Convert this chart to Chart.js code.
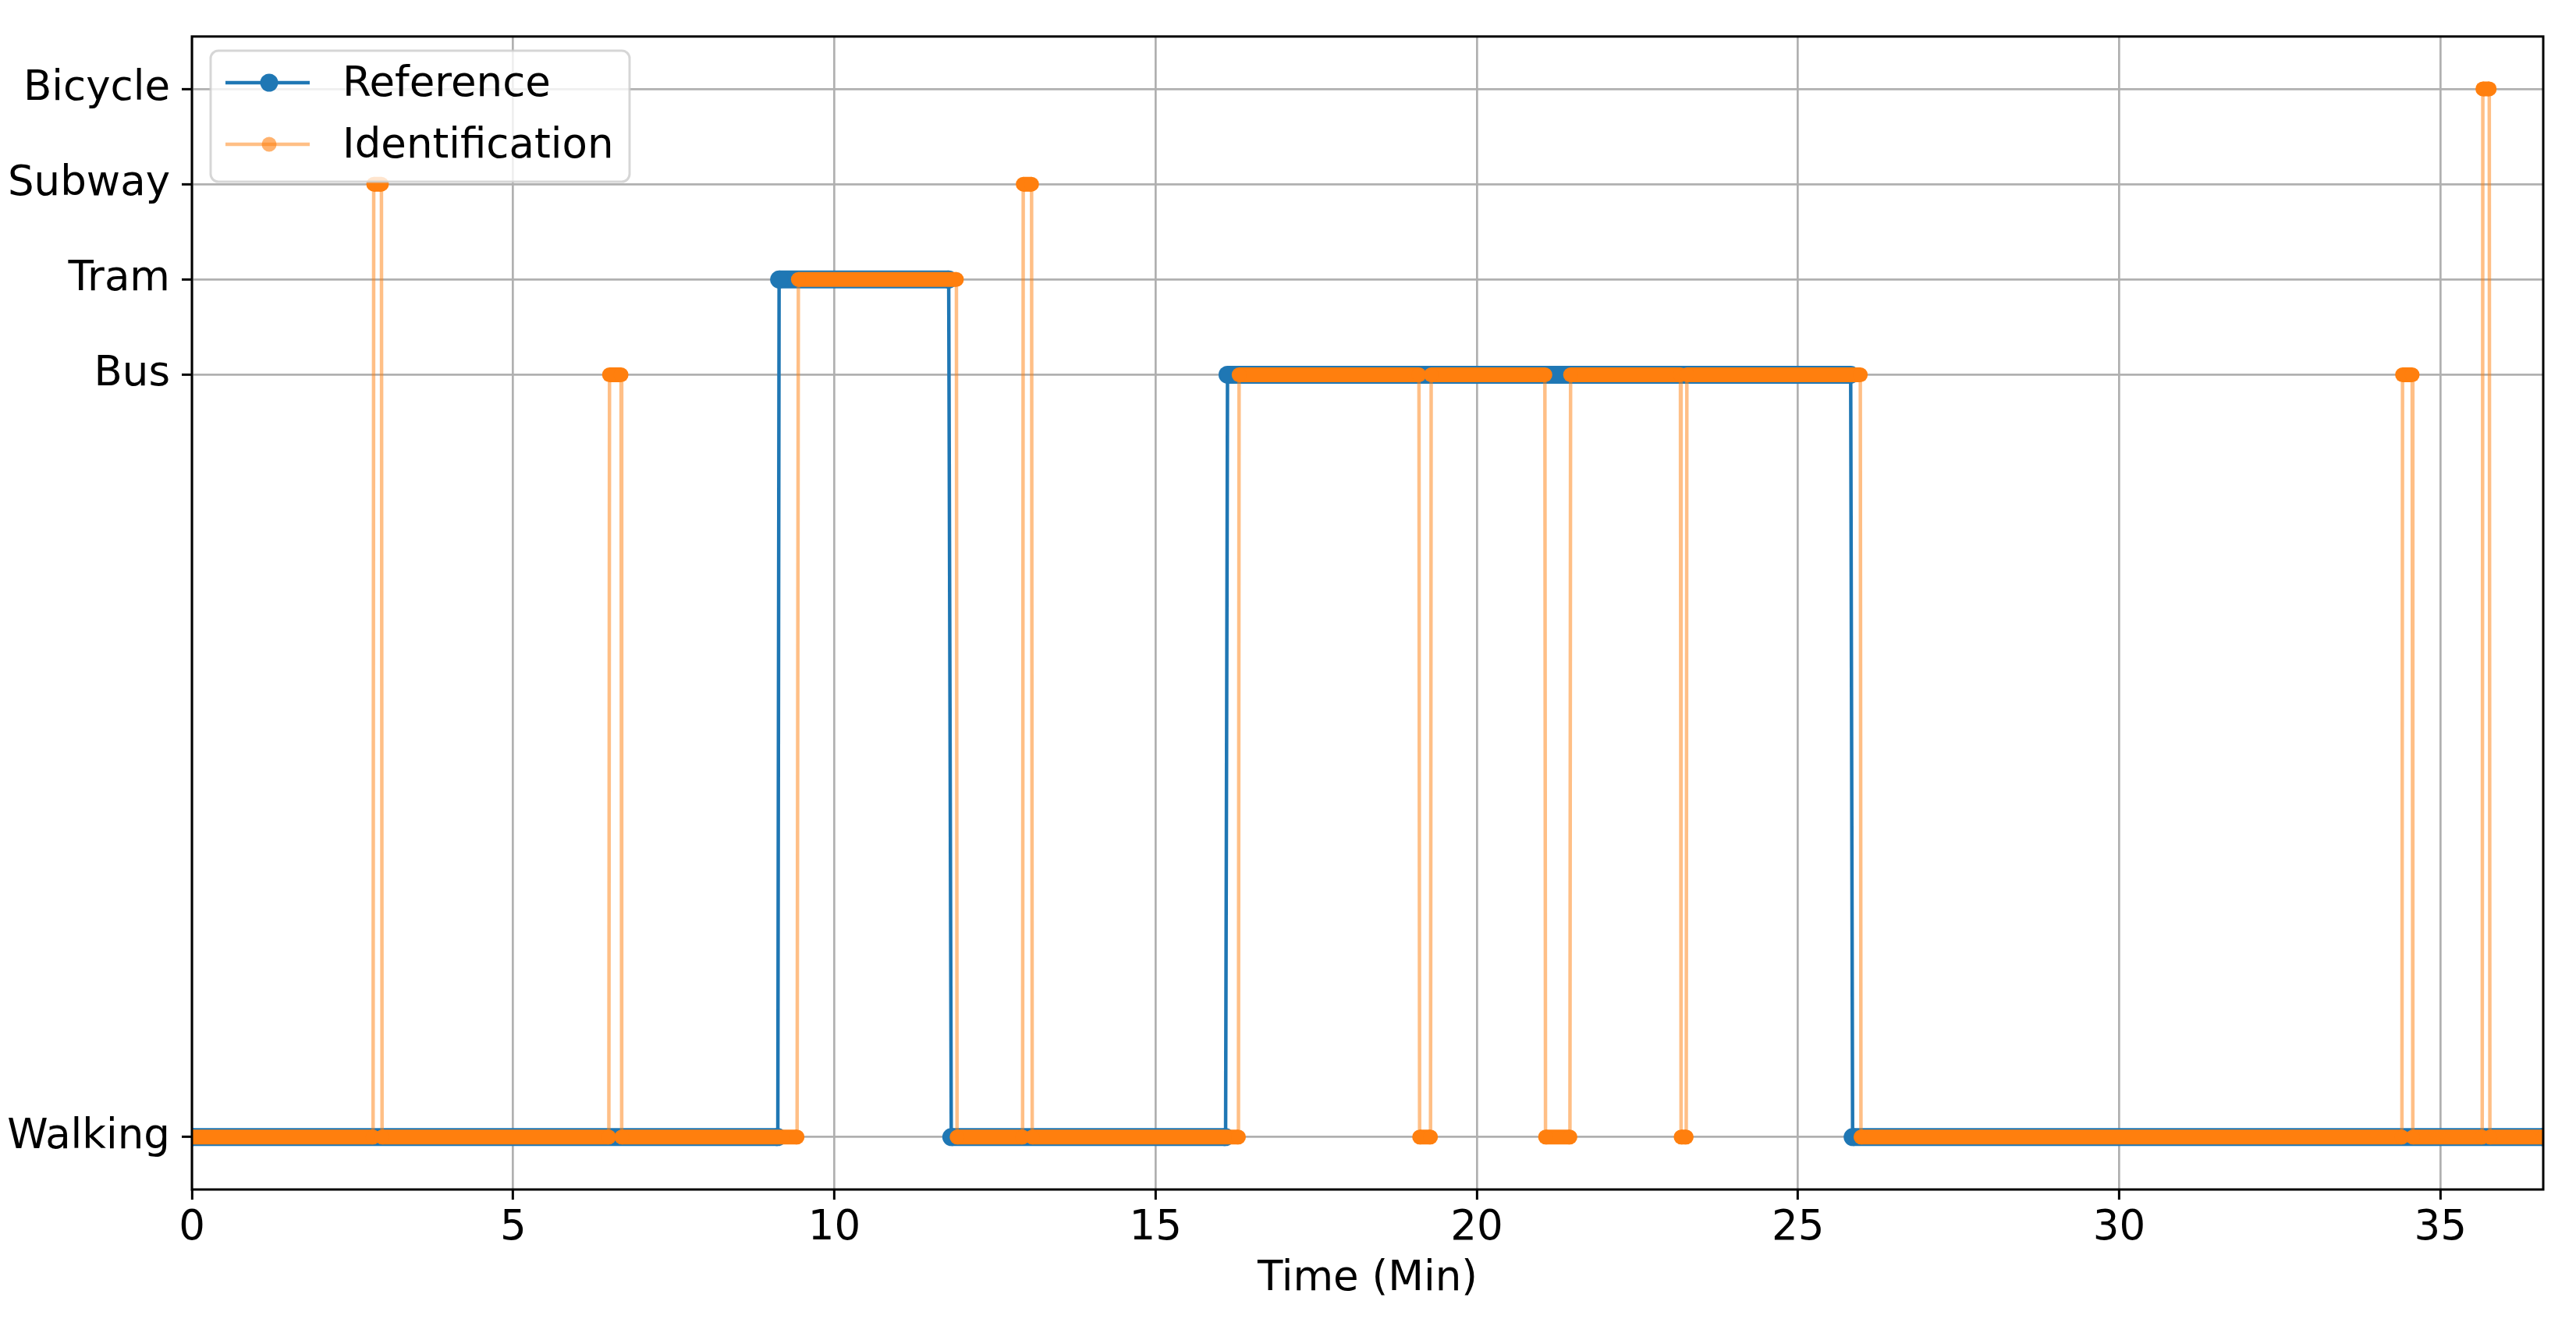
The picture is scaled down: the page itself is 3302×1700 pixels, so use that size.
<!DOCTYPE html>
<html><head><meta charset="utf-8">
<script src="https://cdn.jsdelivr.net/npm/chart.js@4.4.1/dist/chart.umd.min.js"></script>
<style>html,body{margin:0;padding:0;background:#fff}</style>
</head><body>
<canvas id="c" width="3302" height="1700"></canvas>
<script>
// ---- data ----
const modeNames = ['Walking', 'Bus', 'Tram', 'Subway', 'Bicycle'];
const modeLevels = [0, 8, 9, 10, 11];
const xTicks = [0, 5, 10, 15, 20, 25, 30, 35];
const xMin = 0;
const xMax = 36.6;
const seriesNames = ['Reference', 'Identification'];

// Reference: segment start / end times (min) and mode
const refStart = [0, 9.14, 11.82, 16.12, 25.85];
const refEnd   = [9.12, 11.78, 16.09, 25.82, 36.6];
const refMode  = ['Walking', 'Tram', 'Walking', 'Bus', 'Walking'];

// Identification: segment start / end times (min) and mode
const idStart = [0, 2.83, 2.96, 6.50, 6.69, 9.44, 11.91, 12.94, 13.08, 16.30, 19.11, 19.29, 21.07, 21.46, 23.18, 23.27, 25.98, 34.41, 34.57, 35.66, 35.77];
const idEnd   = [2.82, 2.95, 6.49, 6.68, 9.42, 11.90, 12.93, 13.07, 16.29, 19.10, 19.28, 21.06, 21.45, 23.17, 23.26, 25.97, 34.40, 34.56, 35.65, 35.76, 36.6];
const idMode  = ['Walking', 'Subway', 'Walking', 'Bus', 'Walking', 'Tram', 'Walking', 'Subway', 'Walking', 'Bus', 'Walking', 'Bus', 'Walking', 'Bus', 'Walking', 'Bus', 'Walking', 'Bus', 'Walking', 'Bicycle', 'Walking'];

// ---- helpers ----
const lvl = m => modeLevels[modeNames.indexOf(m)];
function linePts(s, e, m) {
  const p = [];
  for (let i = 0; i < s.length; i++) {
    p.push({x: s[i], y: lvl(m[i])});
    p.push({x: e[i], y: lvl(m[i])});
  }
  return p;
}
function bandPts(s, e, m) {
  const p = [];
  for (let i = 0; i < s.length; i++) {
    p.push({x: s[i], y: lvl(m[i])});
    p.push({x: e[i], y: lvl(m[i])});
    p.push({x: e[i], y: null});
  }
  return p;
}

const BLUE = '#1f77b4', ORANGE = '#ff7f0e', ORANGE_A = 'rgba(255,127,14,0.5)';
const RB = 11.5, RO = 9.5, LW = 4.5;
const FONT = 'DejaVu Sans';
const FS = 53;

const framePlugin = {
  id: 'frameLegend',
  afterDatasetsDraw(chart) {
    const ctx = chart.ctx, a = chart.chartArea;
    ctx.save();
    ctx.strokeStyle = '#000';
    ctx.lineWidth = 3;
    ctx.strokeRect(a.left, a.top, a.right - a.left, a.bottom - a.top);
    // legend
    const bx = 270, by = 65, bw = 537, bh = 168, r = 10;
    ctx.beginPath();
    ctx.moveTo(bx + r, by);
    ctx.lineTo(bx + bw - r, by); ctx.arcTo(bx + bw, by, bx + bw, by + r, r);
    ctx.lineTo(bx + bw, by + bh - r); ctx.arcTo(bx + bw, by + bh, bx + bw - r, by + bh, r);
    ctx.lineTo(bx + r, by + bh); ctx.arcTo(bx, by + bh, bx, by + bh - r, r);
    ctx.lineTo(bx, by + r); ctx.arcTo(bx, by, bx + r, by, r);
    ctx.closePath();
    ctx.fillStyle = 'rgba(255,255,255,0.8)';
    ctx.fill();
    ctx.strokeStyle = 'rgba(204,204,204,0.8)';
    ctx.lineWidth = 3;
    ctx.stroke();
    const rows = [
      {y: 106, line: BLUE, mark: BLUE, r: RB, label: seriesNames[0]},
      {y: 185, line: ORANGE_A, mark: 'rgba(255,127,14,0.6)', r: RO, label: seriesNames[1]}
    ];
    rows.forEach(rw => {
      ctx.strokeStyle = rw.line; ctx.lineWidth = LW;
      ctx.beginPath(); ctx.moveTo(289, rw.y); ctx.lineTo(397, rw.y); ctx.stroke();
      ctx.fillStyle = rw.mark;
      ctx.beginPath(); ctx.arc(345, rw.y, rw.r, 0, Math.PI * 2); ctx.fill();
      ctx.fillStyle = '#000';
      ctx.font = FS + 'px "' + FONT + '"';
      ctx.textBaseline = 'middle';
      ctx.textAlign = 'left';
      ctx.fillText(rw.label, 439, rw.y + 3);
    });
    ctx.restore();
  }
};

new Chart(document.getElementById('c'), {
  type: 'line',
  data: {
    datasets: [
      {label: seriesNames[1] + ' markers', data: bandPts(idStart, idEnd, idMode), borderColor: ORANGE, backgroundColor: ORANGE,
       borderWidth: 2 * RO, borderCapStyle: 'butt', pointRadius: RO, pointBorderWidth: 0, pointBackgroundColor: ORANGE,
       spanGaps: false, clip: 0, order: 0, tension: 0},
      {label: seriesNames[1], data: linePts(idStart, idEnd, idMode), borderColor: ORANGE_A, borderWidth: LW,
       pointRadius: 0, clip: 0, order: 1, tension: 0},
      {label: seriesNames[0] + ' markers', data: bandPts(refStart, refEnd, refMode), borderColor: BLUE, backgroundColor: BLUE,
       borderWidth: 2 * RB, borderCapStyle: 'butt', pointRadius: RB, pointBorderWidth: 0, pointBackgroundColor: BLUE,
       spanGaps: false, clip: 0, order: 2, tension: 0},
      {label: seriesNames[0], data: linePts(refStart, refEnd, refMode), borderColor: BLUE, borderWidth: LW,
       pointRadius: 0, clip: 0, order: 3, tension: 0}
    ]
  },
  options: {
    responsive: false,
    animation: false,
    devicePixelRatio: 1,
    layout: {padding: {left: 0, top: 37, right: 42, bottom: 0}},
    plugins: {legend: {display: false}, tooltip: {enabled: false}},
    scales: {
      x: {
        type: 'linear', min: xMin, max: xMax,
        afterBuildTicks: s => { s.ticks = xTicks.map(v => ({value: v})); },
        afterFit: s => { s.height = 175; },
        grid: {color: '#b0b0b0', lineWidth: 2.7, tickColor: '#000', tickLength: 13, tickWidth: 3},
        border: {display: false},
        ticks: {color: '#000', font: {family: FONT, size: FS}, padding: 5, maxRotation: 0, autoSkip: false},
        title: {display: true, text: 'Time (Min)', color: '#000', font: {family: FONT, size: FS}, padding: {top: 0, bottom: 28}}
      },
      y: {
        type: 'linear', min: -0.55, max: 11.55,
        afterBuildTicks: s => { s.ticks = modeLevels.map(v => ({value: v})); },
        afterFit: s => { s.width = 246; },
        grid: {color: '#b0b0b0', lineWidth: 2.7, tickColor: '#000', tickLength: 13, tickWidth: 3},
        border: {display: false},
        ticks: {color: '#000', font: {family: FONT, size: FS}, padding: 15, autoSkip: false,
                callback: v => modeNames[modeLevels.indexOf(v)]}
      }
    }
  },
  plugins: [framePlugin]
});
</script>
</body></html>
